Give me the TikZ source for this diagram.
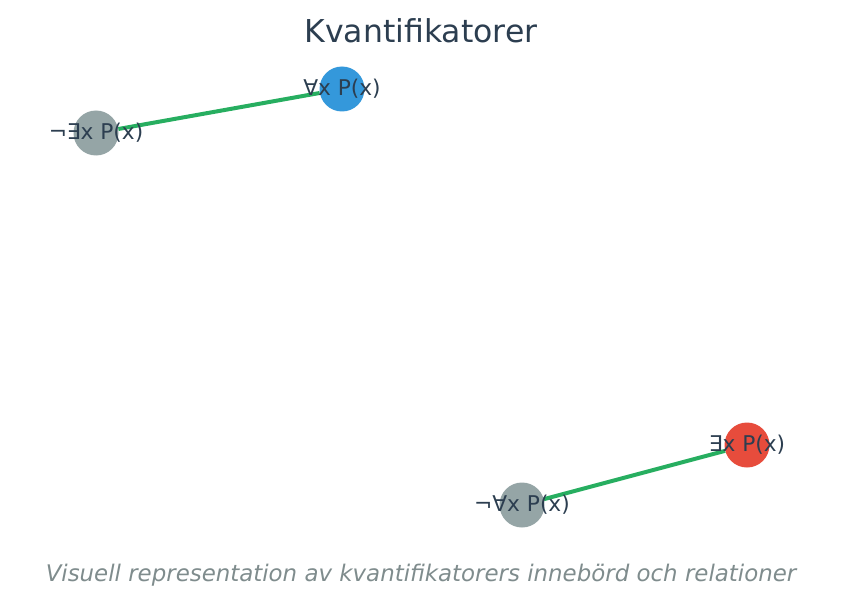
\documentclass[tikz,border=0pt]{standalone}
\usepackage{fontspec}
\setmainfont{DejaVu Sans}
\definecolor{txt}{HTML}{2C3E50}
\definecolor{sub}{HTML}{7F8C8D}
\definecolor{grn}{HTML}{27AE60}
\definecolor{blu}{HTML}{3498DB}
\definecolor{rd}{HTML}{E74C3C}
\definecolor{gry}{HTML}{95A5A6}
\tikzset{
  dot/.style={circle,inner sep=0pt,minimum size=45pt,fill=#1},
  lbl/.style={text=txt,font=\fontsize{21.7}{26}\selectfont,inner sep=0pt},
  link/.style={draw=grn,line width=4pt}
}
\begin{document}
\begin{tikzpicture}[x=1pt,y=-1pt]
\useasboundingbox (0,0) rectangle (843,607);
\node[dot=gry] (a) at (96,133) {};
\node[dot=blu] (b) at (342,89) {};
\node[dot=rd] (c) at (747,445) {};
\node[dot=gry] (d) at (522,505) {};
\draw[link] (a) -- (b);
\draw[link] (d) -- (c);
\node[lbl] (la) at (96,133) {¬∃x P(x)};
\node[lbl] (lb) at (342,89) {∀x P(x)};
\node[lbl] (lc) at (747,445) {∃x P(x)};
\node[lbl] (ld) at (522,505) {¬∀x P(x)};
\node[text=txt,font=\fontsize{31.5}{38}\selectfont] (t) at (421,31) {Kvantifikatorer};
\node[text=sub,font=\itshape\fontsize{22.9}{27}\selectfont] (s) at (421,575) {Visuell representation av kvantifikatorers innebörd och relationer};
\end{tikzpicture}
\end{document}
